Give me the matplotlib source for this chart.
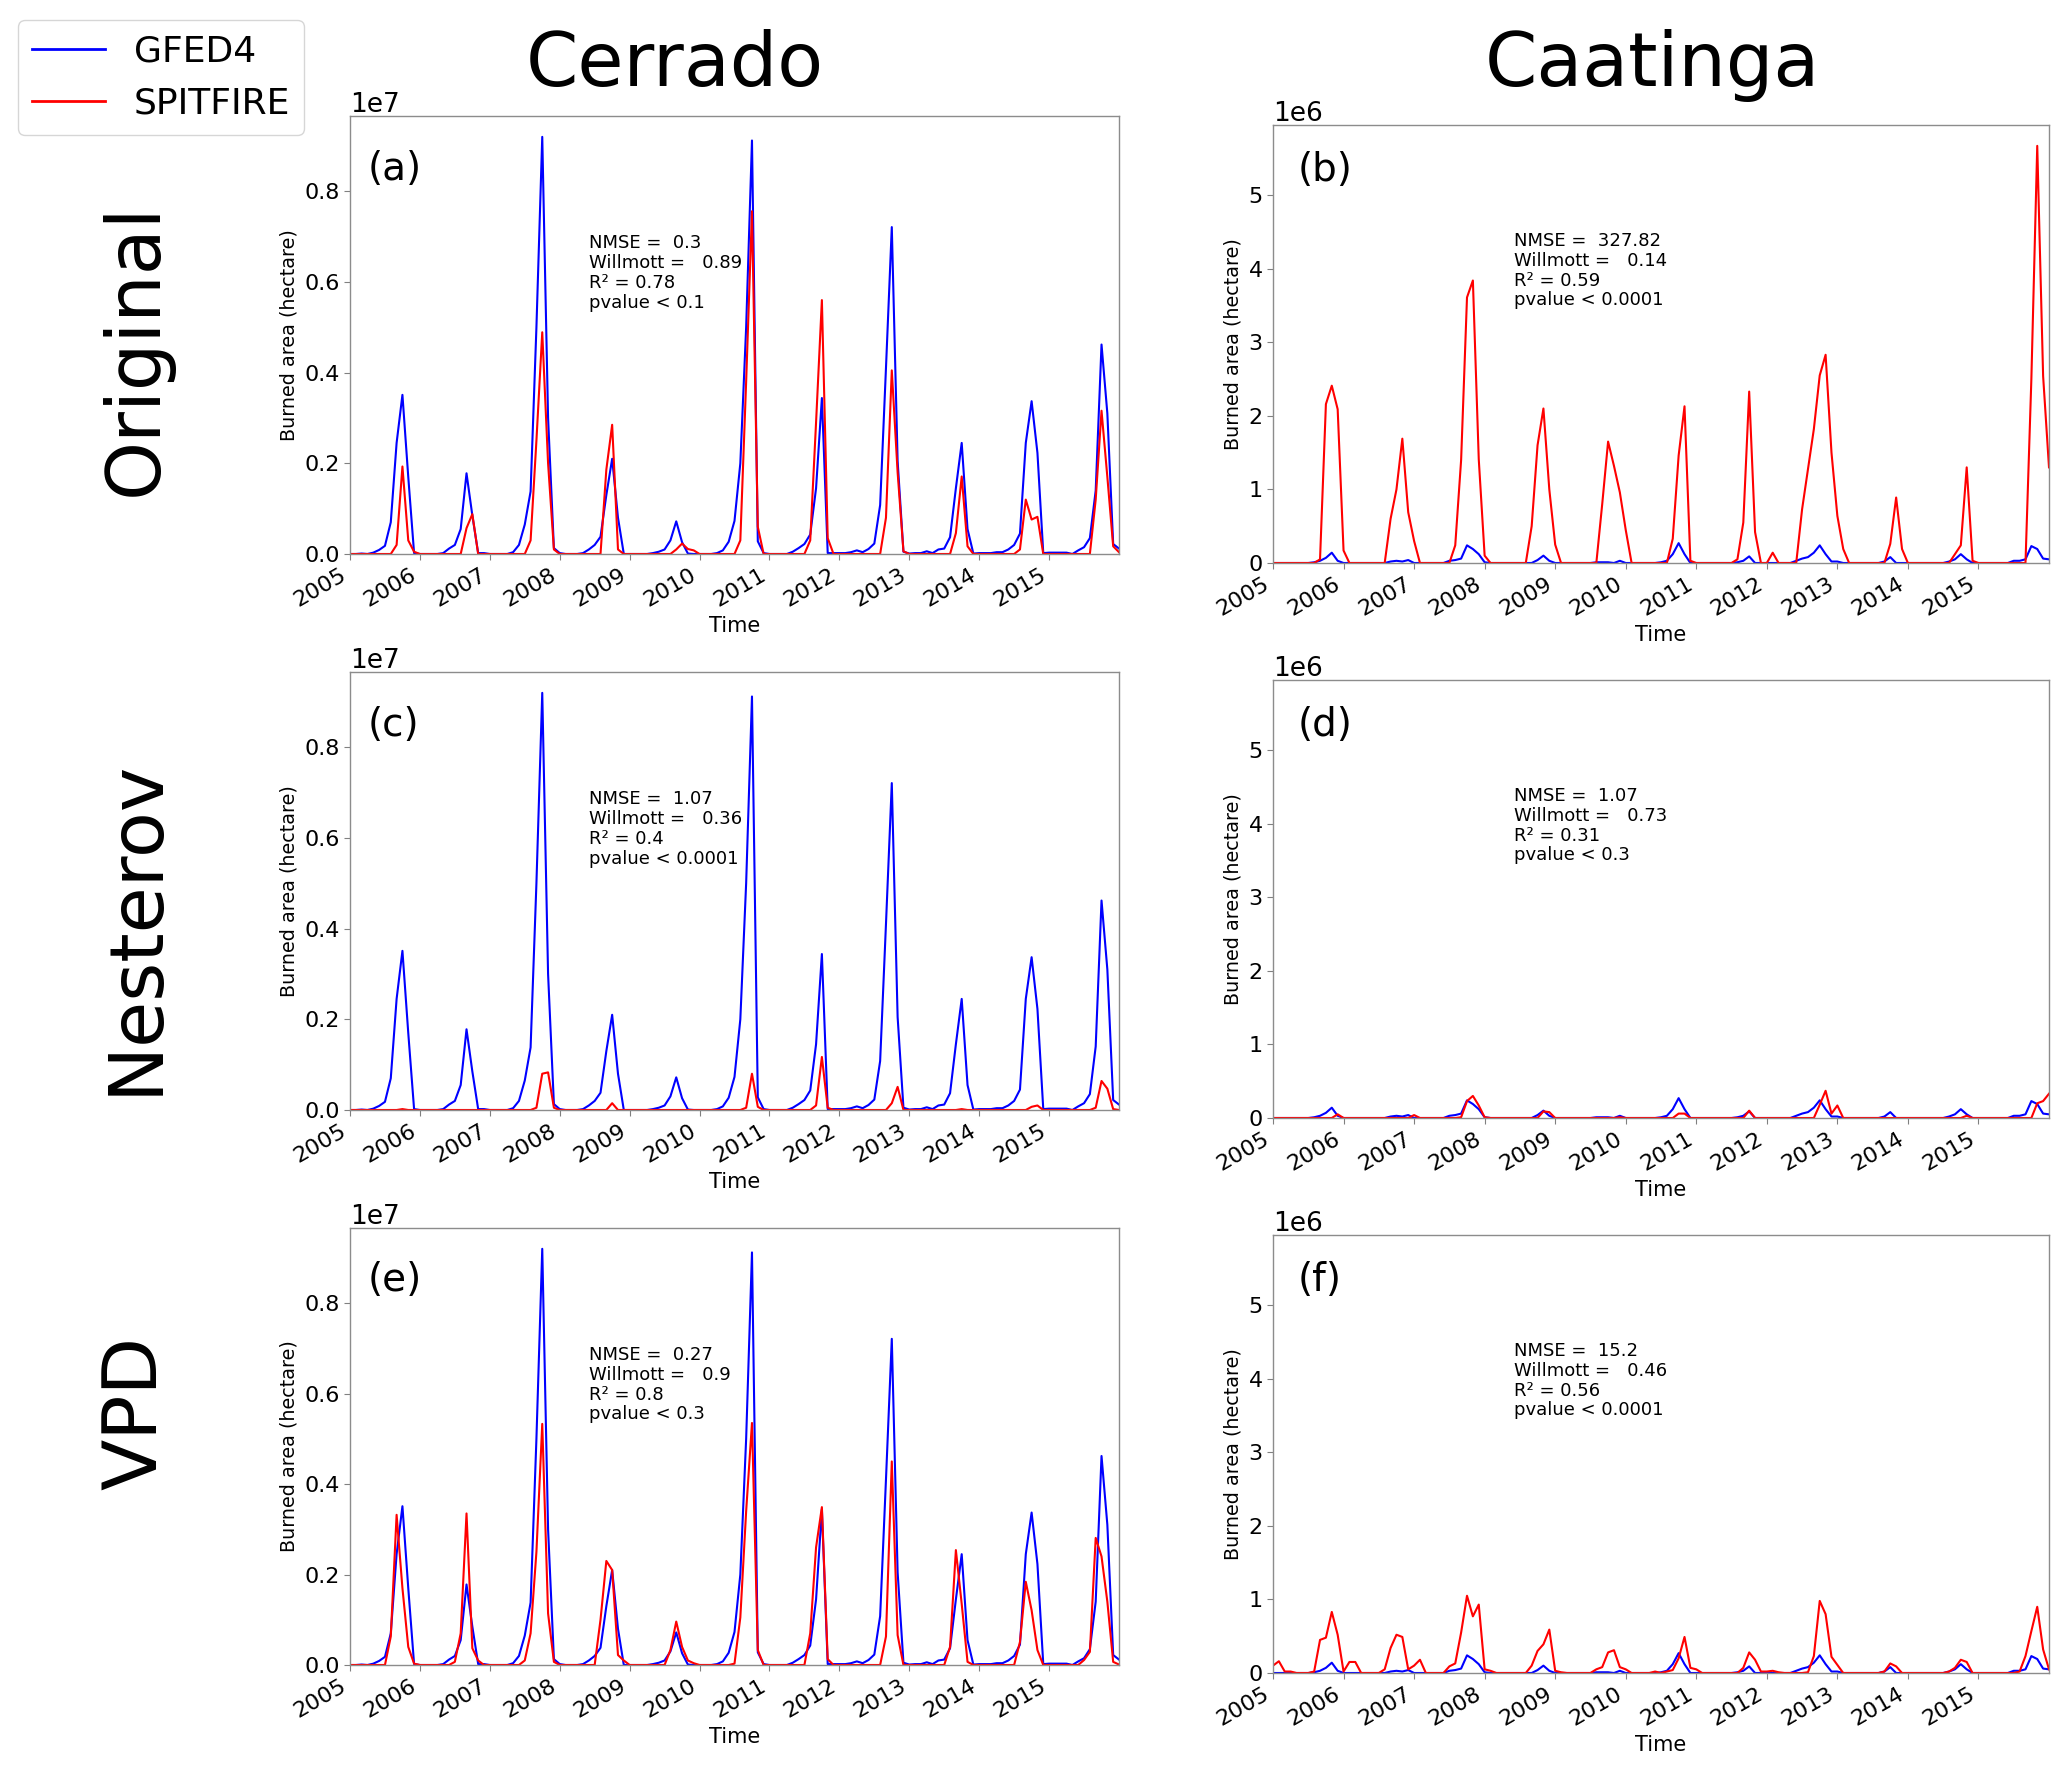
import numpy as np
import matplotlib
matplotlib.use("Agg")
import matplotlib.pyplot as plt
from matplotlib.ticker import ScalarFormatter

# burned area, monthly from Jan 2005 to Jan 2016, in 1e6 hectare
# (one row per year, last value is Jan 2016)
cer_gfed = [
    0.0, 0.0, 0.01, 0.0, 0.03, 0.09, 0.18, 0.7, 2.45, 3.51, 1.7, 0.02,
    0.0, 0.0, 0.0, 0.0, 0.02, 0.12, 0.2, 0.55, 1.78, 0.85, 0.02, 0.02,
    0.0, 0.0, 0.0, 0.0, 0.04, 0.2, 0.65, 1.38, 5.0, 9.2, 3.0, 0.13,
    0.02, 0.0, 0.0, 0.0, 0.02, 0.1, 0.2, 0.38, 1.3, 2.1, 0.8, 0.0,
    0.0, 0.0, 0.0, 0.0, 0.02, 0.05, 0.1, 0.3, 0.72, 0.26, 0.01, 0.0,
    0.0, 0.0, 0.0, 0.02, 0.08, 0.27, 0.73, 2.0, 5.0, 9.12, 0.28, 0.02,
    0.0, 0.0, 0.0, 0.0, 0.05, 0.13, 0.22, 0.43, 1.45, 3.44, 0.02, 0.02,
    0.02, 0.02, 0.04, 0.08, 0.04, 0.11, 0.23, 1.08, 4.1, 7.21, 2.05, 0.05,
    0.01, 0.02, 0.02, 0.06, 0.02, 0.1, 0.12, 0.37, 1.45, 2.45, 0.55, 0.01,
    0.02, 0.02, 0.02, 0.04, 0.04, 0.1, 0.2, 0.45, 2.45, 3.37, 2.23, 0.02,
    0.03, 0.03, 0.03, 0.03, 0.0, 0.08, 0.15, 0.35, 1.4, 4.62, 3.1, 0.22,
    0.12]

cer_orig = [
    0, 0, 0, 0, 0, 0, 0, 0, 0.2, 1.93, 0.3, 0.05,
    0, 0, 0, 0, 0, 0, 0, 0, 0.57, 0.88, 0, 0,
    0, 0, 0, 0, 0, 0, 0, 0.3, 2.5, 4.89, 2.0, 0.1,
    0, 0, 0, 0, 0, 0, 0, 0, 1.86, 2.85, 0.1, 0,
    0, 0, 0, 0, 0, 0, 0, 0, 0.1, 0.23, 0.11, 0.08,
    0, 0, 0, 0, 0, 0, 0, 0.3, 3.8, 7.56, 0.6, 0,
    0, 0, 0, 0, 0, 0, 0, 0.3, 2.9, 5.6, 0.35, 0,
    0, 0, 0, 0, 0, 0, 0, 0, 0.8, 4.05, 1.8, 0.06,
    0, 0, 0, 0, 0, 0, 0, 0, 0.46, 1.71, 0.17, 0,
    0, 0, 0, 0, 0, 0, 0, 0.1, 1.2, 0.76, 0.82, 0,
    0, 0, 0, 0, 0, 0, 0, 0, 1.2, 3.16, 1.7, 0.17,
    0.04]

cer_nest = [
    0, 0, 0, 0, 0, 0, 0, 0, 0, 0.02, 0, 0,
    0, 0, 0, 0, 0, 0, 0, 0, 0, 0, 0, 0,
    0, 0, 0, 0, 0, 0, 0, 0, 0.05, 0.8, 0.83, 0.05,
    0, 0, 0, 0, 0, 0, 0, 0, 0, 0.15, 0, 0,
    0, 0, 0, 0, 0, 0, 0, 0, 0, 0, 0, 0,
    0, 0, 0, 0, 0, 0, 0, 0, 0.05, 0.8, 0.07, 0,
    0, 0, 0, 0, 0, 0, 0, 0, 0.1, 1.17, 0.05, 0,
    0, 0, 0, 0, 0, 0, 0, 0, 0, 0.15, 0.51, 0,
    0, 0, 0, 0, 0, 0, 0, 0, 0, 0.02, 0, 0,
    0, 0, 0, 0, 0, 0, 0, 0, 0, 0.07, 0.1, 0,
    0, 0, 0, 0, 0, 0, 0, 0, 0.05, 0.64, 0.47, 0.02,
    0]

cer_vpd = [
    0, 0, 0, 0, 0, 0, 0, 0.63, 3.32, 1.7, 0.4, 0.03,
    0, 0, 0, 0, 0, 0, 0.07, 0.7, 3.35, 0.37, 0.1, 0,
    0, 0, 0, 0, 0, 0, 0.1, 0.7, 2.5, 5.33, 1.14, 0.07,
    0, 0, 0, 0, 0, 0, 0, 1.0, 2.3, 2.1, 0.22, 0.1,
    0, 0, 0, 0, 0, 0, 0, 0.33, 0.96, 0.4, 0.1, 0.04,
    0, 0, 0, 0, 0, 0, 0.03, 1.05, 3.4, 5.35, 0.33, 0,
    0, 0, 0, 0, 0, 0, 0, 0.7, 2.6, 3.49, 0.13, 0,
    0, 0, 0, 0, 0, 0, 0, 0, 0.63, 4.5, 0.66, 0,
    0, 0, 0, 0, 0, 0, 0, 0.4, 2.54, 1.35, 0.07, 0,
    0, 0, 0, 0, 0, 0, 0, 0.51, 1.84, 1.21, 0.33, 0,
    0, 0, 0, 0, 0, 0, 0.11, 0.29, 2.81, 2.4, 1.4, 0.07,
    0.01]

caa_gfed = [
    0, 0, 0, 0, 0, 0, 0, 0.01, 0.03, 0.07, 0.14, 0.03,
    0, 0, 0, 0, 0, 0, 0, 0, 0.02, 0.03, 0.02, 0.04,
    0, 0, 0, 0, 0, 0, 0.03, 0.04, 0.06, 0.24, 0.19, 0.12,
    0.01, 0, 0, 0, 0, 0, 0, 0, 0, 0.04, 0.1, 0.03,
    0, 0, 0, 0, 0, 0, 0, 0.01, 0.01, 0.01, 0, 0.03,
    0, 0, 0, 0, 0, 0, 0.01, 0.03, 0.12, 0.27, 0.12, 0,
    0, 0, 0, 0, 0, 0, 0, 0.01, 0.03, 0.09, 0, 0,
    0, 0, 0, 0, 0, 0.03, 0.06, 0.08, 0.14, 0.24, 0.12, 0.02,
    0.02, 0, 0, 0, 0, 0, 0, 0, 0.02, 0.08, 0, 0,
    0, 0, 0, 0, 0, 0, 0, 0.02, 0.05, 0.12, 0.05, 0,
    0, 0, 0, 0, 0, 0, 0.03, 0.03, 0.05, 0.23, 0.19, 0.06,
    0.05]

caa_orig = [
    0, 0, 0, 0, 0, 0, 0, 0, 0.05, 2.16, 2.41, 2.09,
    0.17, 0, 0, 0, 0, 0, 0, 0, 0.6, 1.0, 1.69, 0.69,
    0.3, 0, 0, 0, 0, 0, 0, 0.24, 1.4, 3.61, 3.84, 1.41,
    0.1, 0, 0, 0, 0, 0, 0, 0, 0.5, 1.6, 2.1, 1.0,
    0.25, 0, 0, 0, 0, 0, 0, 0, 0.8, 1.65, 1.32, 0.96,
    0.45, 0, 0, 0, 0, 0, 0, 0, 0.33, 1.46, 2.13, 0.03,
    0, 0, 0, 0, 0, 0, 0, 0.05, 0.55, 2.33, 0.42, 0,
    0, 0.14, 0, 0, 0, 0, 0.73, 1.28, 1.82, 2.55, 2.83, 1.5,
    0.64, 0.19, 0, 0, 0, 0, 0, 0, 0, 0.26, 0.89, 0.19,
    0, 0, 0, 0, 0, 0, 0, 0, 0.12, 0.24, 1.3, 0.03,
    0, 0, 0, 0, 0, 0, 0, 0, 0, 2.5, 5.67, 2.54,
    1.3]

caa_nest = [
    0, 0, 0, 0, 0, 0, 0, 0, 0, 0, 0, 0.05,
    0, 0, 0, 0, 0, 0, 0, 0, 0, 0, 0, 0,
    0.04, 0, 0, 0, 0, 0, 0, 0, 0.01, 0.23, 0.3, 0.17,
    0.01, 0, 0, 0, 0, 0, 0, 0, 0, 0, 0.09, 0.08,
    0, 0, 0, 0, 0, 0, 0, 0, 0, 0, 0, 0.01,
    0, 0, 0, 0, 0, 0, 0, 0, 0, 0.06, 0.06, 0,
    0, 0, 0, 0, 0, 0, 0, 0, 0, 0.1, 0, 0,
    0, 0, 0, 0, 0, 0, 0, 0, 0, 0.18, 0.37, 0.06,
    0.17, 0, 0, 0, 0, 0, 0, 0, 0, 0, 0, 0,
    0, 0, 0, 0, 0, 0, 0, 0, 0, 0, 0.03, 0,
    0, 0, 0, 0, 0, 0, 0, 0, 0, 0, 0.2, 0.23,
    0.33]

caa_vpd = [
    0.1, 0.16, 0.02, 0.02, 0, 0, 0, 0.02, 0.45, 0.48, 0.83, 0.52,
    0.02, 0.15, 0.15, 0, 0, 0, 0, 0.05, 0.34, 0.52, 0.49, 0.05,
    0.1, 0.18, 0, 0, 0, 0, 0.09, 0.13, 0.55, 1.05, 0.77, 0.93,
    0.05, 0.03, 0, 0, 0, 0, 0, 0, 0.1, 0.3, 0.39, 0.59,
    0.03, 0.01, 0, 0, 0, 0, 0, 0.05, 0.08, 0.28, 0.31, 0.08,
    0.05, 0, 0, 0, 0, 0.02, 0, 0.02, 0.04, 0.2, 0.49, 0.07,
    0.05, 0, 0, 0, 0, 0, 0, 0, 0.07, 0.28, 0.18, 0.02,
    0.02, 0.03, 0.01, 0, 0, 0, 0, 0.01, 0.23, 0.98, 0.8, 0.22,
    0.11, 0, 0, 0, 0, 0, 0, 0, 0.02, 0.13, 0.09, 0,
    0, 0, 0, 0, 0, 0, 0, 0.02, 0.07, 0.18, 0.15, 0,
    0, 0, 0, 0, 0, 0, 0, 0.02, 0.23, 0.57, 0.9, 0.32,
    0.05]

years = [str(y) for y in range(2005, 2016)]
rows = ["Original", "Nesterov", "VPD"]
cols = ["Cerrado", "Caatinga"]
letters = ["(a)", "(b)", "(c)", "(d)", "(e)", "(f)"]

stats = [
    "NMSE =  0.3\nWillmott =   0.89\nR² = 0.78\npvalue < 0.1",
    "NMSE =  327.82\nWillmott =   0.14\nR² = 0.59\npvalue < 0.0001",
    "NMSE =  1.07\nWillmott =   0.36\nR² = 0.4\npvalue < 0.0001",
    "NMSE =  1.07\nWillmott =   0.73\nR² = 0.31\npvalue < 0.3",
    "NMSE =  0.27\nWillmott =   0.9\nR² = 0.8\npvalue < 0.3",
    "NMSE =  15.2\nWillmott =   0.46\nR² = 0.56\npvalue < 0.0001",
]

gfed = [cer_gfed, caa_gfed]
spit = [[cer_orig, caa_orig], [cer_nest, caa_nest], [cer_vpd, caa_vpd]]

W, H = 2067, 1769
fig = plt.figure(figsize=(W / 100, H / 100), dpi=100)

# axes boxes in pixels: left, top, right, bottom
boxes = [
    [(350, 116, 1119, 554), (1273, 125, 2049, 563)],
    [(350, 672, 1119, 1110), (1273, 680, 2049, 1118)],
    [(350, 1228, 1119, 1665), (1273, 1235, 2049, 1673)],
]

t = np.arange(len(cer_gfed))
colmax = [max(max(gfed[c]), max(max(spit[r][c]) for r in range(3))) * 1e6 for c in range(2)]

k = 0
for r in range(3):
    for c in range(2):
        l, tp, rt, b = boxes[r][c]
        ax = fig.add_axes([l / W, 1 - b / H, (rt - l) / W, (b - tp) / H])
        g = np.array(gfed[c]) * 1e6
        s = np.array(spit[r][c]) * 1e6
        ax.plot(t, g, color="#0000ff", lw=1.5, label="GFED4")
        ax.plot(t, s, color="#ff0000", lw=1.5, label="SPITFIRE")
        ax.set_xlim(0, len(t) - 1)
        ax.set_ylim(0, colmax[c] * 1.05)
        ax.set_xticks(np.arange(0, 121, 12))
        ax.set_xticklabels(years, rotation=30, ha="right")
        if c == 0:
            fmt = ScalarFormatter()
            fmt.set_powerlimits((7, 7))
            ax.yaxis.set_major_formatter(fmt)
        ax.yaxis.get_offset_text().set_fontsize(19)
        ax.tick_params(labelsize=16, color="0.5", length=4)
        for sp in ax.spines.values():
            sp.set_color("0.55")
            sp.set_linewidth(1.0)
        ax.set_ylabel("Burned area (hectare)", fontsize=13.8)
        ax.set_xlabel("Time", fontsize=15)
        ly = 0.88 if c == 0 else 0.897
        ax.text(0.023 if c == 0 else 0.032, ly, letters[k], transform=ax.transAxes,
                fontsize=28, ha="left", va="center")
        sy = 0.73 if c == 0 else 0.756
        ax.text(0.311, sy, stats[k], transform=ax.transAxes, fontsize=13,
                linespacing=1.13, ha="left", va="top")
        if k == 0:
            handles, labels = ax.get_legend_handles_labels()
        k += 1

fig.text(675 / W, 1 - 86 / H, cols[0], fontsize=54, ha="center", va="baseline")
fig.text(1652 / W, 1 - 86 / H, cols[1], fontsize=54, ha="center", va="baseline")
for name, yc in zip(rows, [349, 927, 1413]):
    fig.text(136 / W, 1 - yc / H, name, fontsize=54, rotation=90,
             ha="center", va="center")

leg = fig.legend(handles, labels, loc="upper left", fontsize=26,
                 bbox_to_anchor=(18 / W, 1 - 20 / H), borderaxespad=0)
for ln in leg.get_lines():
    ln.set_linewidth(2.0)

fig.savefig("out.png", dpi=100)
